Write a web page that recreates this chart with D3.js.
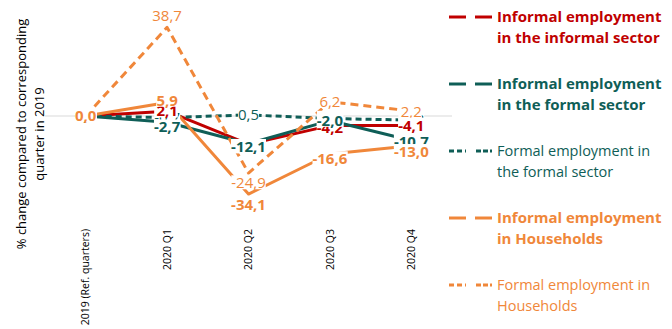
<!DOCTYPE html>
<html><head><meta charset="utf-8">
<script src="https://cdn.jsdelivr.net/npm/d3@7"></script>
<style>html,body{margin:0;padding:0;background:#fff;}svg{display:block;font-family:"Open Sans",sans-serif;}</style>
</head><body><svg id="c" width="672" height="329"></svg>
<script>
const categories = ["2019 (Ref. quarters)", "2020 Q1", "2020 Q2", "2020 Q3", "2020 Q4"];
const informalInformal = [0, 2.1, -12.3, -4.2, -4.1];
const informalFormal = [0, -2.7, -12.1, -2.0, -10.7];
const formalFormal = [0, -0.7, 0.5, -1.1, -1.8];
const informalHouseholds = [0, 5.9, -34.1, -16.6, -13.0];
const formalHouseholds = [0, 38.7, -24.9, 6.2, 2.2];
const seriesNames = [
  ["Informal employment", "in the informal sector"],
  ["Informal employment", "in the formal sector"],
  ["Formal employment in", "the formal sector"],
  ["Informal employment", "in Households"],
  ["Formal employment in", "Households"]
];
const yTitle = ["% change compared to corresponding", "quarter in 2019"];

const RED = "#C00000", TEAL = "#0F5E57", ORANGE = "#F0873A";
const series = [
  {name: seriesNames[0], values: informalInformal, color: RED, dash: null, bold: true},
  {name: seriesNames[1], values: informalFormal, color: TEAL, dash: null, bold: true},
  {name: seriesNames[2], values: formalFormal, color: TEAL, dash: "6,4", bold: false},
  {name: seriesNames[3], values: informalHouseholds, color: ORANGE, dash: null, bold: true},
  {name: seriesNames[4], values: formalHouseholds, color: ORANGE, dash: "8,5", bold: false}
];
// label vertical nudges (px) per series / point, layout only
const labelDy = [
  [0, 0, 3, 2, 0],
  [0, 5, 3, 0, 1],
  [0, 0, 0, 0, 0],
  [0, -2, 11, 5, 6],
  [0, -12, 10, 0, 1]
];

const svg = d3.select("#c");
const x = d3.scaleBand().domain(categories).range([45, 452]).padding(0);
const y = d3.scaleLinear().domain([-40, 50]).range([207.6, 1.5]);
const cx = c => x(c) + x.bandwidth() / 2;

// zero line
svg.append("line").attr("x1", 45).attr("x2", 452).attr("y1", y(0)).attr("y2", y(0))
  .attr("stroke", "#D9D9D9").attr("stroke-width", 1);

// x axis labels
const xAxis = d3.axisBottom(x).tickSize(0).tickPadding(0);
const gx = svg.append("g").attr("transform", "translate(0,229)").call(xAxis);
gx.select(".domain").remove();
gx.selectAll("text")
  .attr("transform", "rotate(-90)")
  .attr("x", 0).attr("y", 0).attr("dy", "0.35em")
  .attr("text-anchor", "end")
  .attr("font-size", 10.5).attr("fill", "#000")
  .attr("font-family", "'Open Sans',sans-serif");

// y title
const yt = svg.append("text").attr("transform", "translate(26,134) rotate(-90)")
  .attr("text-anchor", "middle").attr("font-size", 13).attr("fill", "#000");
yt.append("tspan").attr("x", 0).attr("y", 0).text(yTitle[0]);
yt.append("tspan").attr("x", 0).attr("y", 18).text(yTitle[1]);

// lines
const line = d3.line().x((d, i) => cx(categories[i])).y(d => y(d));
series.forEach(s => {
  svg.append("path").datum(s.values).attr("d", line)
    .attr("fill", "none").attr("stroke", s.color).attr("stroke-width", 3)
    .attr("stroke-dasharray", s.dash).attr("stroke-linejoin", "round");
});

// labels
const fmt = v => d3.format(".1f")(v).replace(".", ",").replace("−", "-");
const order = [2, 4, 0, 1, 3];
const lg = svg.append("g");
order.forEach(si => {
  const s = series[si];
  s.values.forEach((v, i) => {
    const g = lg.append("g");
    const t = g.append("text")
      .attr("x", cx(categories[i])).attr("y", y(v) + labelDy[si][i])
      .attr("dy", "0.35em").attr("text-anchor", "middle")
      .attr("font-size", 15).attr("font-weight", s.bold ? 700 : 400)
      .attr("fill", s.color).text(fmt(v));
    const bb = t.node().getBBox();
    g.insert("rect", "text").attr("x", bb.x).attr("y", bb.y + 3)
      .attr("width", bb.width).attr("height", bb.height - 6).attr("fill", "#fff");
  });
});

// legend
const leg = svg.append("g");
series.forEach((s, i) => {
  const yy = 17 + 67 * i;
  if (s.dash) {
    leg.append("line").attr("x1", 449).attr("x2", 466).attr("y1", yy).attr("y2", yy)
      .attr("stroke", s.color).attr("stroke-width", 3).attr("stroke-dasharray", "5,3");
    leg.append("line").attr("x1", 476).attr("x2", 492).attr("y1", yy).attr("y2", yy)
      .attr("stroke", s.color).attr("stroke-width", 3).attr("stroke-dasharray", "5,2");
  } else {
    leg.append("line").attr("x1", 449).attr("x2", 466).attr("y1", yy).attr("y2", yy)
      .attr("stroke", s.color).attr("stroke-width", 3);
    leg.append("line").attr("x1", 475).attr("x2", 492).attr("y1", yy).attr("y2", yy)
      .attr("stroke", s.color).attr("stroke-width", 3);
  }
  const t = leg.append("text").attr("font-size", s.bold ? 15 : 14.5).attr("font-weight", s.bold ? 700 : 400)
    .attr("fill", s.color);
  t.append("tspan").attr("x", 497).attr("y", yy + 5).text(s.name[0]);
  t.append("tspan").attr("x", 497).attr("y", yy + 26).text(s.name[1]);
});
</script></body></html>
